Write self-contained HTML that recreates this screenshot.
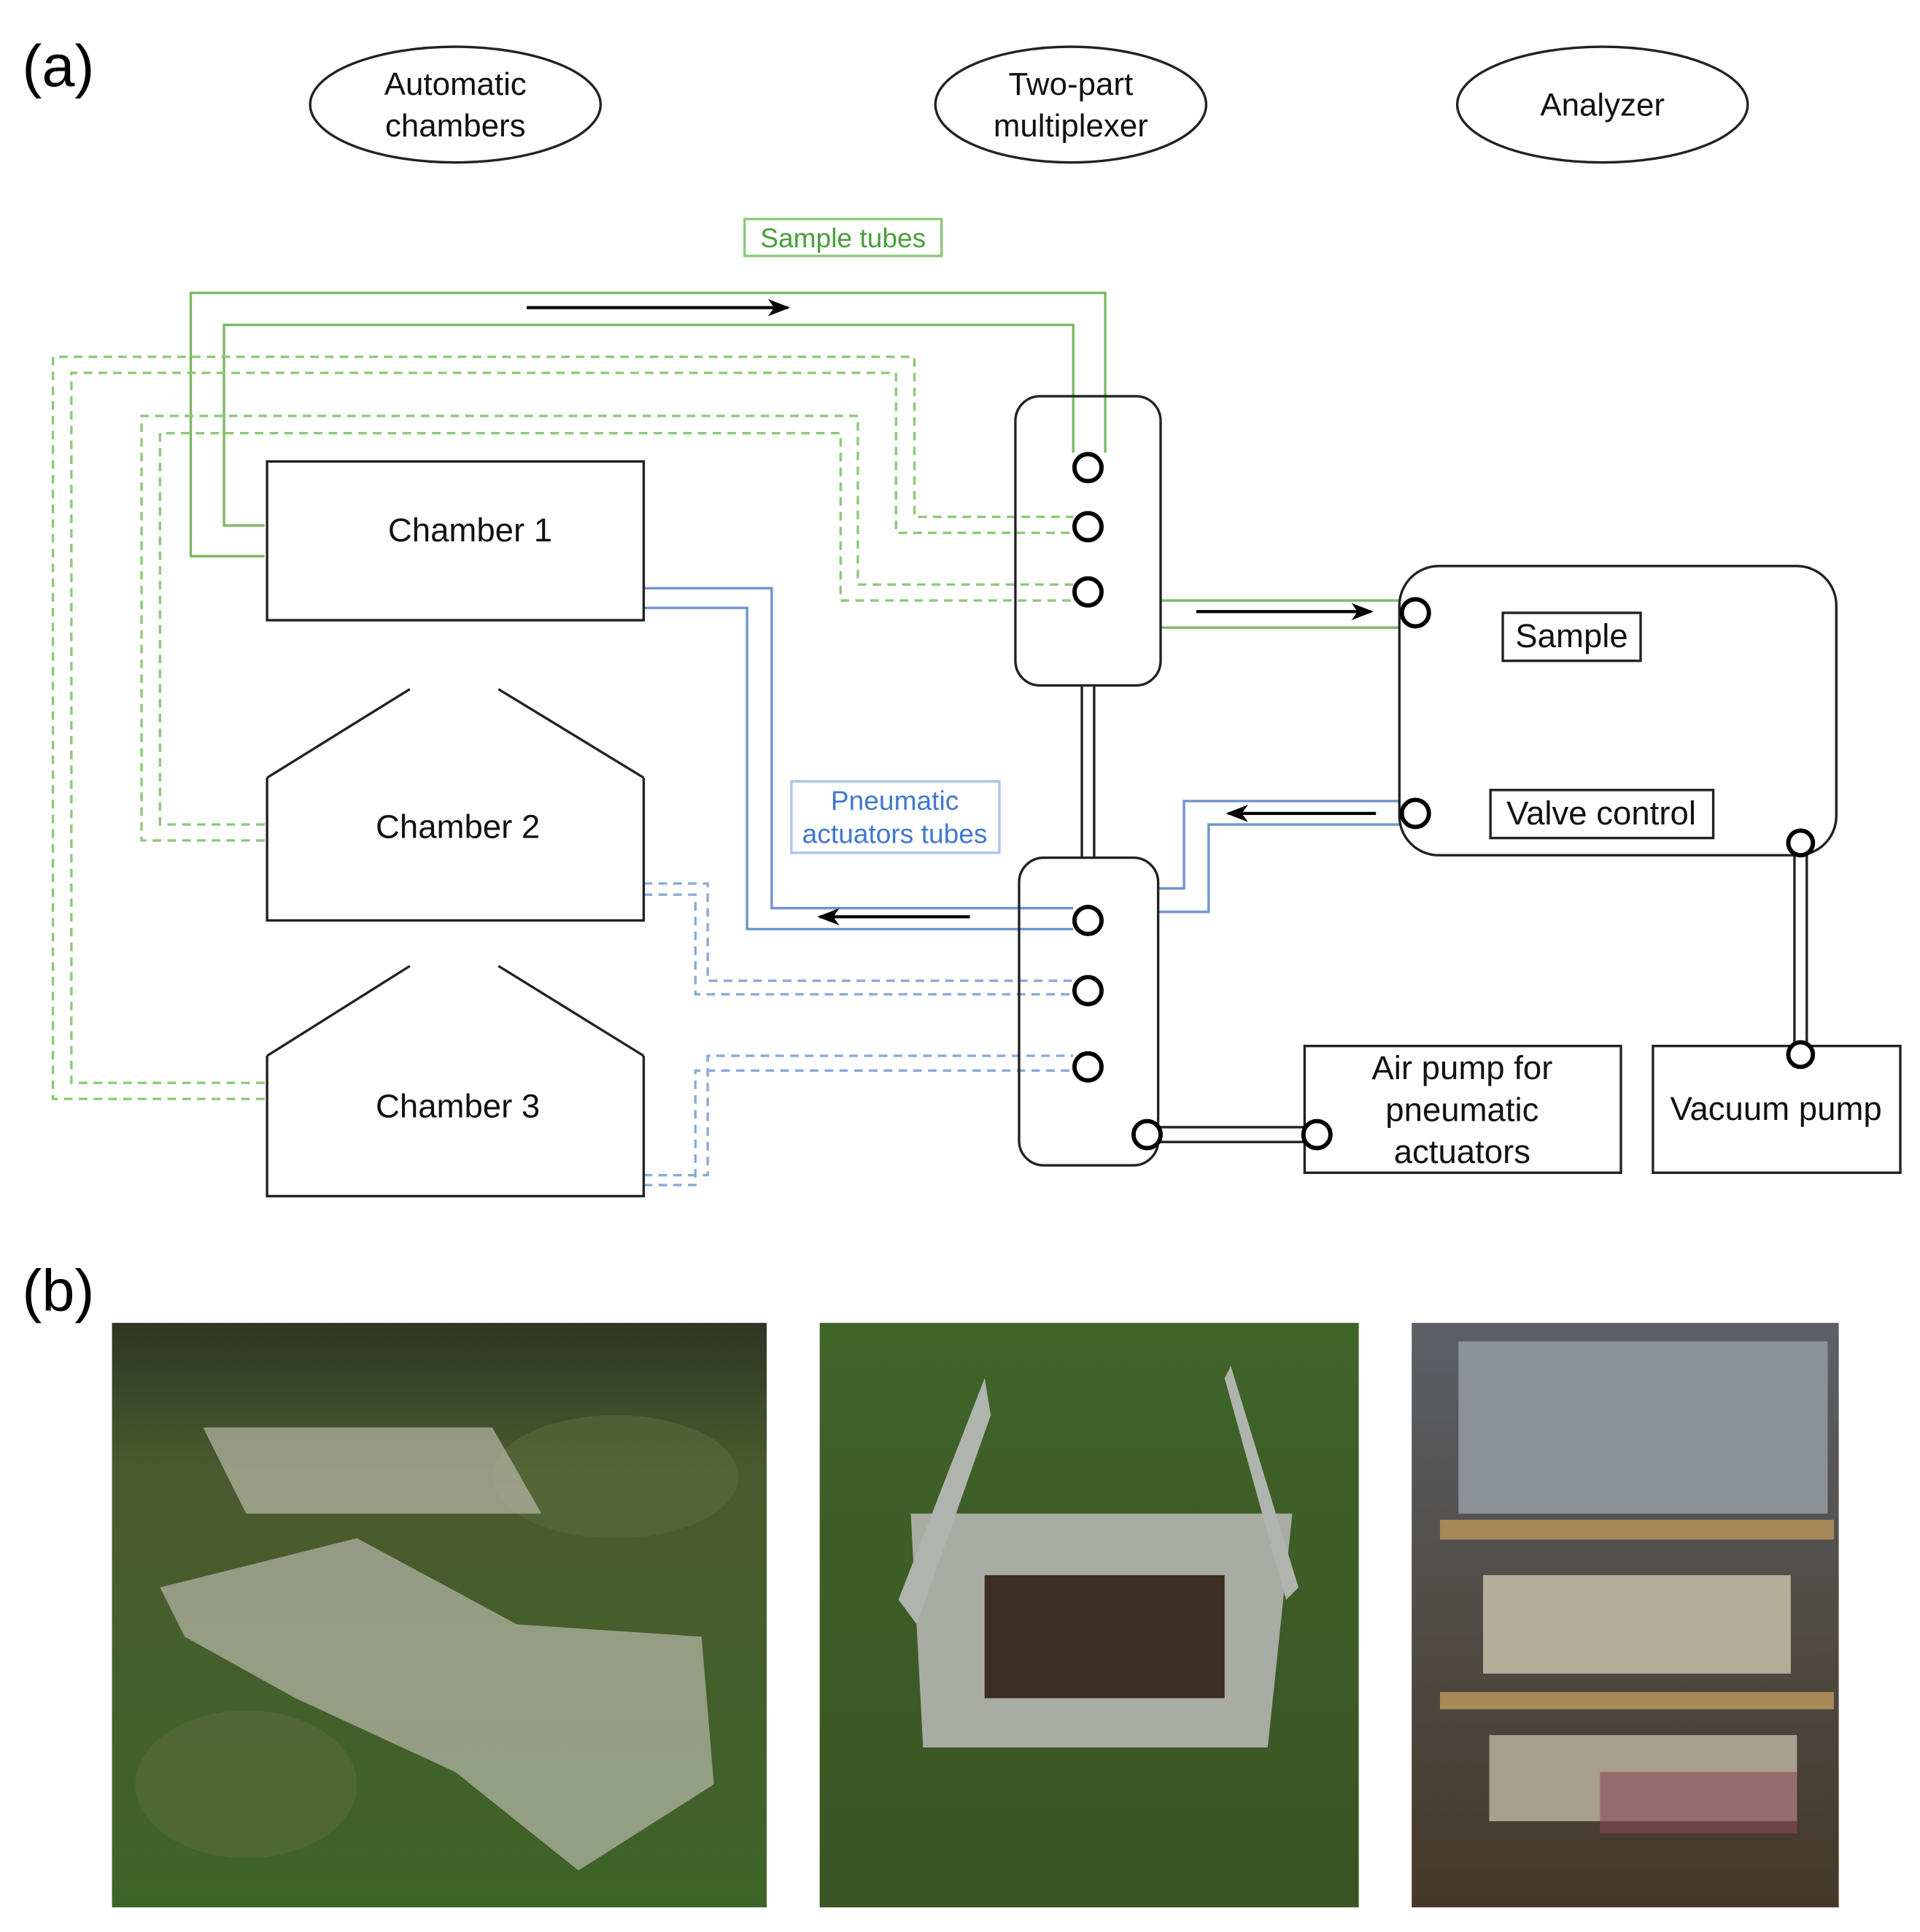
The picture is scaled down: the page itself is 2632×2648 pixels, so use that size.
<!DOCTYPE html>
<html><head><meta charset="utf-8"><style>
html,body{margin:0;padding:0;background:#fff}
svg{display:block}
text{font-family:"Liberation Sans",sans-serif}
</style></head><body>
<svg width="2632" height="2648" viewBox="0 0 1560 1570" xmlns="http://www.w3.org/2000/svg" preserveAspectRatio="none">
<defs>
<marker id="ar" markerWidth="18" markerHeight="14" refX="16" refY="7" orient="auto" markerUnits="userSpaceOnUse" viewBox="0 0 18 14"><path d="M0,0 L18,7 L0,14 L5,7 z" fill="#000"/></marker>
<linearGradient id="g1" x1="0" y1="0" x2="0" y2="1"><stop offset="0" stop-color="#2f3624"/><stop offset="0.25" stop-color="#4a5a2e"/><stop offset="1" stop-color="#3d6428"/></linearGradient>
<linearGradient id="g2" x1="0" y1="0" x2="0" y2="1"><stop offset="0" stop-color="#3f6428"/><stop offset="1" stop-color="#3a5424"/></linearGradient>
<linearGradient id="g3" x1="0" y1="0" x2="0" y2="1"><stop offset="0" stop-color="#5c6066"/><stop offset="1" stop-color="#453828"/></linearGradient>
</defs>
<text x="18" y="70" font-size="48">(a)</text>
<text x="18" y="1065" font-size="48">(b)</text>
<g fill="none" stroke="#222" stroke-width="2">
<ellipse cx="370" cy="85" rx="118" ry="47"/>
<ellipse cx="870" cy="85" rx="110" ry="47"/>
<ellipse cx="1302" cy="85" rx="118" ry="47"/>
</g>
<g font-size="26" text-anchor="middle" fill="#111">
<text x="370" y="77">Automatic</text><text x="370" y="111">chambers</text>
<text x="870" y="77">Two-part</text><text x="870" y="111">multiplexer</text>
<text x="1302" y="94">Analyzer</text>
</g>
<rect x="605" y="178" width="160" height="30" fill="none" stroke="#8cc97a" stroke-width="2"/>
<text x="685" y="201" font-size="22" text-anchor="middle" fill="#4a9e3a">Sample tubes</text>
<g fill="none" stroke="#7cb864" stroke-width="2">
<polyline points="215,452 155,452 155,238 898,238 898,368"/>
<polyline points="215,427 182,427 182,264 872,264 872,368"/>
<line x1="943" y1="488" x2="1138" y2="488"/><line x1="943" y1="510" x2="1138" y2="510"/>
</g>
<g fill="none" stroke="#8cc97a" stroke-width="2" stroke-dasharray="7,5">
<polyline points="215,880 58,880 58,303 728,303 728,433 872,433"/>
<polyline points="215,893 43,893 43,290 743,290 743,420 872,420"/>
<polyline points="215,670 130,670 130,352 683,352 683,488 872,488"/>
<polyline points="215,683 115,683 115,338 697,338 697,475 872,475"/>
</g>
<g fill="none" stroke="#6d93cf" stroke-width="2">
<polyline points="523,478 627,478 627,738 872,738"/>
<polyline points="523,494 607,494 607,755 872,755"/>
<polyline points="1138,651 962,651 962,722 941,722"/>
<polyline points="1138,670 982,670 982,741 941,741"/>
</g>
<g fill="none" stroke="#8aa9dd" stroke-width="2" stroke-dasharray="7,5">
<polyline points="523,718 575,718 575,797 872,797"/>
<polyline points="523,727 565,727 565,808 872,808"/>
<polyline points="523,955 575,955 575,858 872,858"/>
<polyline points="523,963 565,963 565,870 872,870"/>
</g>
<rect x="643" y="635" width="169" height="58" fill="#fff" stroke="#a9c4ee" stroke-width="2"/>
<text x="727" y="658" font-size="22" text-anchor="middle" fill="#3f78d0">Pneumatic</text>
<text x="727" y="685" font-size="22" text-anchor="middle" fill="#3f78d0">actuators tubes</text>
<g stroke="#000" stroke-width="2.5" fill="none">
<line x1="428" y1="250" x2="640" y2="250" marker-end="url(#ar)"/>
<line x1="972" y1="497" x2="1114" y2="497" marker-end="url(#ar)"/>
<line x1="788" y1="745" x2="666" y2="745" marker-end="url(#ar)"/>
<line x1="1118" y1="661" x2="998" y2="661" marker-end="url(#ar)"/>
</g>
<g fill="none" stroke="#222" stroke-width="2">
<rect x="217" y="375" width="306" height="129"/>
<polyline points="217,632 217,748 523,748 523,632"/>
<line x1="217" y1="632" x2="333" y2="560"/><line x1="405" y1="560" x2="523" y2="632"/>
<polyline points="217,858 217,972 523,972 523,858"/>
<line x1="217" y1="858" x2="333" y2="785"/><line x1="405" y1="785" x2="523" y2="858"/>
<rect x="825" y="322" width="118" height="235" rx="20"/>
<rect x="828" y="697" width="113" height="250" rx="20"/>
<line x1="879" y1="557" x2="879" y2="697"/><line x1="889" y1="557" x2="889" y2="697"/>
<rect x="1137" y="460" width="355" height="235" rx="32"/>
<rect x="1221" y="498" width="112" height="39"/>
<rect x="1211" y="642" width="181" height="39"/>
<line x1="1458" y1="685" x2="1458" y2="857"/><line x1="1468" y1="685" x2="1468" y2="857"/>
<rect x="1343" y="850" width="201" height="103"/>
<rect x="1060" y="850" width="257" height="103"/>
<line x1="932" y1="916" x2="1070" y2="916"/><line x1="932" y1="928" x2="1070" y2="928"/>
</g>
<g fill="#fff" stroke="#000" stroke-width="3.5">
<circle cx="884" cy="380" r="11"/><circle cx="884" cy="428" r="11"/><circle cx="884" cy="481" r="11"/>
<circle cx="884" cy="748" r="11"/><circle cx="884" cy="805" r="11"/><circle cx="884" cy="867" r="11"/>
<circle cx="932" cy="922" r="11"/><circle cx="1070" cy="922" r="11"/>
<circle cx="1150" cy="498" r="11"/><circle cx="1150" cy="661" r="11"/>
<circle cx="1463" cy="685" r="10"/><circle cx="1463" cy="857" r="10"/>
</g>
<g font-size="27" text-anchor="middle" fill="#111">
<text x="382" y="440">Chamber  1</text>
<text x="372" y="681">Chamber  2</text>
<text x="372" y="908">Chamber  3</text>
<text x="1277" y="526">Sample</text>
<text x="1301" y="670">Valve control</text>
<text x="1443" y="910">Vacuum pump</text>
<text x="1188" y="877">Air pump for</text>
<text x="1188" y="911">pneumatic</text>
<text x="1188" y="945">actuators</text>
</g>
<rect x="91" y="1075" width="532" height="475" fill="url(#g1)"/>
<g fill="#5a6a3a" opacity="0.6"><ellipse cx="200" cy="1450" rx="90" ry="60"/><ellipse cx="500" cy="1200" rx="100" ry="50"/></g>
<g fill="#b8b8a8" opacity="0.7">
<polygon points="165,1160 400,1160 440,1230 200,1230"/>
<polygon points="130,1290 290,1250 420,1320 570,1330 580,1450 470,1520 370,1440 240,1380 150,1330"/>
</g>
<rect x="666" y="1075" width="438" height="475" fill="url(#g2)"/>
<polygon points="740,1230 1050,1230 1030,1420 750,1420" fill="#a9aca4"/>
<rect x="800" y="1280" width="195" height="100" fill="#3b2e22"/>
<polygon points="730,1300 800,1120 805,1150 745,1320" fill="#b0b4ae"/>
<polygon points="1045,1300 995,1120 1000,1110 1055,1290" fill="#b0b4ae"/>
<rect x="1147" y="1075" width="347" height="475" fill="url(#g3)"/>
<rect x="1185" y="1090" width="300" height="140" fill="#8c9198"/>
<rect x="1170" y="1235" width="320" height="16" fill="#a88a58"/>
<rect x="1205" y="1280" width="250" height="80" fill="#b5ad98"/>
<rect x="1170" y="1375" width="320" height="14" fill="#a88a58"/>
<rect x="1210" y="1410" width="250" height="70" fill="#a7a090"/>
<rect x="1300" y="1440" width="160" height="50" fill="#8a4a5a" opacity="0.6"/>
</svg>
</body></html>
